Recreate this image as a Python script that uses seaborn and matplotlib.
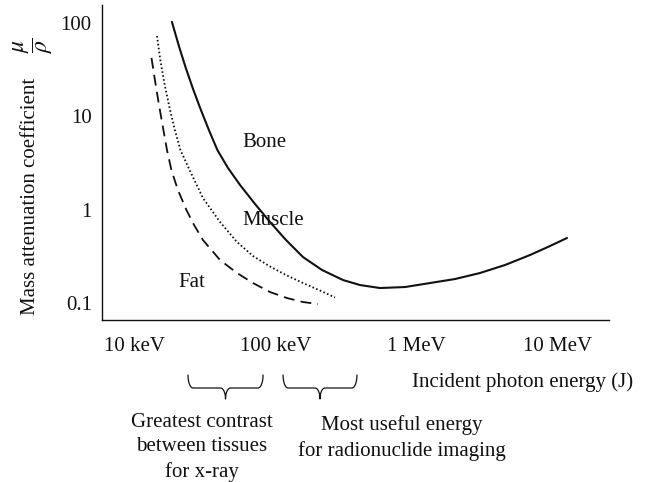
import numpy as np
import pandas as pd
import matplotlib
matplotlib.use("Agg")
import matplotlib.pyplot as plt
import seaborn as sns
from matplotlib.ticker import NullLocator
from matplotlib.transforms import IdentityTransform

# ---- data (energy in keV, mass attenuation coefficient) ----
bone_energy = [18.3, 20.4, 22.96, 26.0, 29.4, 33.5, 38.5, 45.8, 55.8, 71.3, 91.1,
               118.4, 156.3, 213.4, 300.8, 397.2, 551, 830, 1249, 1881, 2831,
               4263, 6418, 8903, 11760]
bone_mu = [102.8, 58.3, 33.0, 19.19, 11.71, 7.15, 4.36, 2.80, 1.84, 1.151, 0.738,
           0.473, 0.311, 0.226, 0.1764, 0.1559, 0.1448, 0.1484, 0.1638, 0.1808,
           0.2097, 0.2555, 0.3269, 0.4082, 0.4974]

muscle_energy = [14.33, 15.13, 16.26, 17.74, 19.21, 21.02, 24.6, 30.4, 40.2, 53.1,
                 69.0, 91.1, 120.3, 156.3, 206.5, 264]
muscle_mu = [72.7, 40.2, 21.7, 11.71, 7.15, 4.36, 2.60, 1.335, 0.738, 0.4506,
             0.3190, 0.2462, 0.1971, 0.1638, 0.1361, 0.1146]

fat_energy = [13.10, 13.85, 14.81, 15.92, 16.88, 18.14, 20.18, 23.19, 26.3, 30.4,
              40.2, 53.1, 69.0, 91.1, 120.3, 156.3, 199.8]
fat_mu = [42.3, 24.55, 13.25, 7.15, 4.36, 2.66, 1.626, 0.993, 0.6855, 0.4733,
          0.2890, 0.2097, 0.1638, 0.1312, 0.1131, 0.1025, 0.0976]

x_ticks = [10, 100, 1000, 10000]
x_tick_labels = ["10 keV", "100 keV", "1 MeV", "10 MeV"]
y_ticks = [0.1, 1, 10, 100]
y_tick_labels = ["0.1", "1", "10", "100"]

xray_range = [23.8, 81.3]
nuclide_range = [112.8, 378]

sns.set_theme(style="white")
plt.rcParams["font.family"] = ["Liberation Serif", "DejaVu Serif"]
plt.rcParams["mathtext.fontset"] = "stix"

W, H = 649, 482
fig = plt.figure(figsize=(W / 100, H / 100), dpi=100)
ax = fig.add_axes([101.5 / W, 1 - 320 / H, (609 - 101.5) / W, (320 - 5) / H])

black = "#111111"
sns.lineplot(x=bone_energy, y=bone_mu, ax=ax, color=black, lw=1.5,
             estimator=None, sort=False)
sns.lineplot(x=muscle_energy, y=muscle_mu, ax=ax, color=black, lw=1.3,
             linestyle=(0, (0.9, 1.3)), estimator=None, sort=False)
sns.lineplot(x=fat_energy, y=fat_mu, ax=ax, color=black, lw=1.3,
             linestyle=(0, (6, 3.5)), estimator=None, sort=False)

ax.set_xscale("log")
ax.set_yscale("log")
ax.set_xlim(5.78, 23380)
ax.set_ylim(0.0658, 156)
ax.set_xticks(x_ticks, labels=x_tick_labels)
ax.set_yticks(y_ticks, labels=y_tick_labels)
ax.xaxis.set_minor_locator(NullLocator())
ax.yaxis.set_minor_locator(NullLocator())
ax.tick_params(axis="x", length=0, pad=12, labelsize=15, colors=black)
ax.tick_params(axis="y", length=0, pad=7, labelsize=15, colors=black)
for s in ["top", "right"]:
    ax.spines[s].set_visible(False)
for s in ["left", "bottom"]:
    ax.spines[s].set_color(black)
    ax.spines[s].set_linewidth(1.0)
ax.set_xlabel("")
ax.set_ylabel("")
ax.grid(False)

# curve labels
ax.text(82.6, 5.19, "Bone", fontsize=15, ha="center", va="center", color=black)
ax.text(95.7, 0.757, "Muscle", fontsize=15, ha="center", va="center", color=black)
ax.text(25.4, 0.168, "Fat", fontsize=15, ha="center", va="center", color=black)

# y label (text + fraction)
fig.text(31 / W, 1 - 315 / H, "Mass attenuation coefficient",
         rotation=90, ha="center", va="bottom", fontsize=15, color=black)
fig.text(33 / W, 1 - 45 / H, r"$\dfrac{\mu}{\rho}$",
         rotation=90, ha="center", va="center", fontsize=17, color=black)

# x label
fig.text(412 / W, 1 - 387 / H, "Incident photon energy (J)", ha="left",
         va="baseline", fontsize=15, color=black)


def brace(xr):
    x0 = ax.transData.transform((xr[0], 1))[0]
    x1 = ax.transData.transform((xr[1], 1))[0]
    ybase = ax.transAxes.transform((0, 0))[1]
    top = ybase - 55
    line = ybase - 68
    tip = ybase - 79
    mid = (x0 + x1) / 2
    r = 5.0
    r2 = 5.0
    t = np.linspace(np.pi, 1.5 * np.pi, 20)
    lx = (x0 + r) + r * np.cos(t)
    ly = top + (top - line) * np.sin(t)
    t2 = np.linspace(0.5 * np.pi, 0, 20)
    mx = (mid - r2) + r2 * np.cos(t2)
    my = tip + (line - tip) * np.sin(t2)
    xs = np.concatenate([lx, mx])
    ys = np.concatenate([ly, my])
    xs_full = np.concatenate([xs, (2 * mid - xs)[::-1]])
    ys_full = np.concatenate([ys, ys[::-1]])
    fig.add_artist(plt.Line2D(xs_full, ys_full, transform=IdentityTransform(),
                              color=black, lw=0.9))


brace(xray_range)
brace(nuclide_range)

# multi-line texts: va="baseline" anchors the last line's baseline
fig.text(202 / W, 1 - 476.5 / H, "Greatest contrast\nbetween tissues\nfor x-ray",
         ha="center", va="baseline", multialignment="center", fontsize=15,
         linespacing=1.38, color=black)
fig.text(402 / W, 1 - 456 / H, "Most useful energy\nfor radionuclide imaging",
         ha="center", va="baseline", multialignment="center", fontsize=15,
         linespacing=1.38, color=black)

fig.savefig("out.png", dpi=100)
